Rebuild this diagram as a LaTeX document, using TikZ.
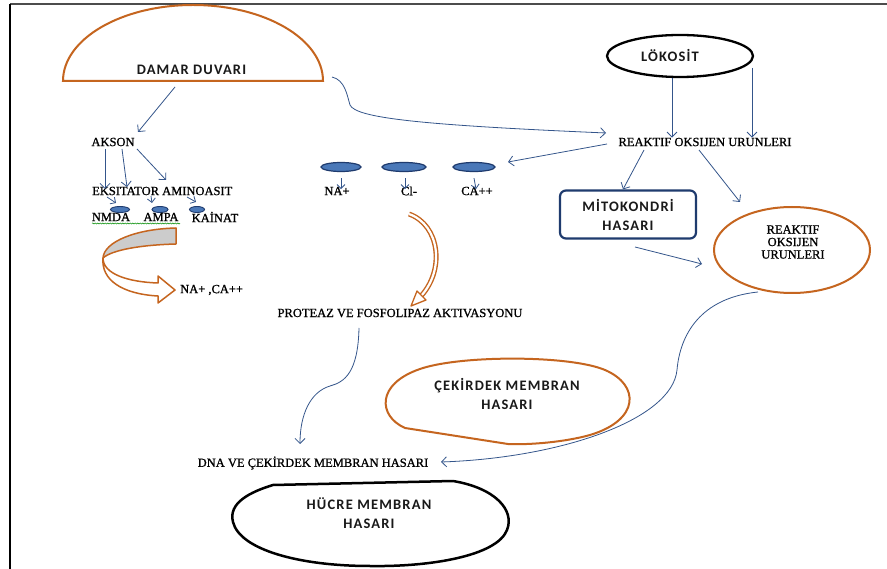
\documentclass[tikz,border=0pt]{standalone}
\usepackage{fontspec}
\setmainfont[FakeBold=1.0]{Liberation Serif}
\newfontfamily\calfont[LetterSpace=8]{Carlito}
\usetikzlibrary{arrows.meta,shapes.geometric,decorations.pathmorphing,calc}
\definecolor{ob}{HTML}{C5651F}
\definecolor{ab}{HTML}{34558B}
\definecolor{db}{HTML}{1F3B6E}
\definecolor{ionfill}{HTML}{4A78B8}
\begin{document}
\begin{tikzpicture}[x=1pt,y=-1pt,
 txt/.style={font=\fontsize{12.5}{12.5}\selectfont, inner sep=0pt, text=black},
 stxt/.style={font=\calfont\bfseries\fontsize{14.5}{19}\selectfont, inner sep=0pt, align=center, text=black!90},
 arr/.style={draw=ab, line width=0.8pt, -{Straight Barb[length=5pt,width=10pt]}},
 sarr/.style={draw=ab, line width=0.8pt, -{Straight Barb[length=4pt,width=8pt]}},
 ion/.style={ellipse, draw=db, fill=ionfill, line width=1.2pt, inner sep=0pt},
 oshape/.style={draw=ob, line width=2pt},
]
\useasboundingbox (0,0) rectangle (887,569);
\fill[white] (0,0) rectangle (887,569);
\draw[black!70, line width=2pt] (887,4) -- (10,4);
\draw[black, line width=1.5pt] (10,4) -- (10,569);

% DAMAR DUVARI dome
\draw[oshape] (63,81) -- (323,81) arc[start angle=0,end angle=180,x radius=130pt,y radius=76pt] -- cycle;
\node[stxt] (damar) at (191.5,69.5) {DAMAR DUVARI};
\coordinate (damarB) at (175,87);
\coordinate (damarR) at (332,77);

% LOKOSIT
\node[ellipse, draw=black, line width=2.3pt, minimum width=146pt, minimum height=42pt] (lok) at (680,56) {};
\node[stxt] (loktxt) at (670,55) {LÖKOSİT};

% REAKTIF text
\node[txt] (reak) at (705,142) {REAKTIF OKSIJEN URUNLERI};

% MITOKONDRI
\node[draw=db, line width=2.2pt, rounded corners=6pt, minimum width=136pt, minimum height=48pt, stxt, inner sep=0pt] (mito) at (628,214.5) {MİTOKONDRİ\\HASARI};

% REAKTIF orange ellipse
\node[ellipse, oshape, minimum width=156pt, minimum height=86pt] (rell) at (792,250) {};
\node[txt, align=center] (relltxt) at (793,242) {REAKTIF\\OKSIJEN\\URUNLERI};

% Arrows from LOKOSIT
\coordinate (l1) at (672,78);
\coordinate (l2) at (752,68);
\draw[arr] (l1) -- (reak.north -| l1);
\draw[arr] (l2) -- (reak.north -| l2);

% damar to reaktif
\coordinate (reakin) at (606,133);
\draw[arr] (damarR) .. controls (345,80) and (347,95) .. (350,105) .. controls (356,118) and (420,125) .. (reakin);

% ions
\node[ion, minimum width=40pt, minimum height=9pt] (na) at (341,167) {};
\node[ion, minimum width=44pt, minimum height=9pt] (cl) at (404,167) {};
\node[ion, minimum width=42pt, minimum height=9pt] (ca) at (474,167) {};
\node[txt] (natxt) at (337,191) {NA+};
\node[txt] (cltxt) at (409,191) {Cl-};
\node[txt] (catxt) at (477,191) {CA++};
\draw[sarr] ($(na.south)+(0,6)$) -- ($(na.south)+(0,17)$);
\draw[sarr] ($(cl.south)+(1,6)$) -- ($(cl.south)+(1,17)$);
\draw[sarr] ($(ca.south)+(0,6)$) -- ($(ca.south)+(2,17)$);

% reaktif arrows
\coordinate (r1) at (607,144);
\coordinate (r2) at (644,150);
\coordinate (r3) at (699,150);
\draw[arr] (r1) -- (508,162);
\draw[arr] (r2) -- (mito.north -| 623,0);
\draw[arr] (r3) -- (740,202);
\draw[arr] (635,247) -- (702,264);

% AKSON
\node[txt] (akson) at (113,142) {AKSON};
\draw[arr] (damarB) -- (138,132);
\node[txt, anchor=west] (eks) at (92,191) {EKSITATOR AMINOASIT};
\draw[arr] (105,149) -- (105,189);
\draw[arr] (122,149) -- (127,187);
\draw[arr] (137,149) -- (166,180);
\draw[sarr] (107,197) -- (116,203);
\draw[sarr] (151,196) -- (152,203);
\draw[sarr] (187,197) -- (196,202);
\node[ion, line width=0.9pt, minimum width=19pt, minimum height=6pt] (nmdae) at (120,209.5) {};
\node[ion, line width=0.9pt, minimum width=16pt, minimum height=6pt] (ampae) at (160,209.5) {};
\node[ion, line width=0.9pt, minimum width=15pt, minimum height=6pt] (kaie) at (197,209.5) {};
\node[txt] (nmda) at (111,217) {NMDA};
\node[txt] (ampa) at (161,217) {AMPA};
\node[txt] (kainat) at (215,217) {KAİNAT};
\draw[green!55!black, line width=0.5pt, decorate, decoration={snake, amplitude=0.6pt, segment length=2.5pt}] (92,223.5) -- (180,223.5);

% left curved block arrow
\draw[ob, line width=1.5pt, fill=black!20, line join=round] (176,228) .. controls (135,229) and (104,242) .. (103,258) .. controls (112,250) and (140,245) .. (176,244) -- cycle;
\draw[ob, line width=1.5pt, fill=white, line join=round] (103,258) .. controls (103,274) and (128,282) .. (158,283) -- (158,276) -- (175,290) -- (158,303) -- (158,296) .. controls (122,294) and (101,280) .. (103,258) -- cycle;
\node[txt, anchor=west] (naca) at (180,290) {NA+ ,CA++};

% right thin curved arrow
\draw[ob, line width=1.4pt, double=white, double distance=2.2pt] (409,214) .. controls (440,225) and (445,270) .. (421,296);
\draw[ob, line width=1.3pt, fill=white, line join=round] (417,291) -- (426,300) -- (411,306) -- cycle;

% PROTEAZ
\node[txt] (prot) at (400,313) {PROTEAZ VE FOSFOLIPAZ AKTIVASYONU};
\node[txt] (dna) at (313,463) {DNA VE ÇEKİRDEK MEMBRAN HASARI};
\coordinate (p1) at (359,328);
\coordinate (p2) at (300,444);
\draw[arr] (p1) .. controls (358,372) and (345,382) .. (330,386) .. controls (310,392) and (300,415) .. (p2);

% reaktif ellipse -> DNA
\coordinate (q1) at (758,292);
\coordinate (q2) at (441,462);
\draw[arr] (q1) .. controls (700,298) and (680,335) .. (677,370) .. controls (672,420) and (560,458) .. (q2);

% CEKIRDEK shape
\draw[oshape, line join=round] (508,444) -- (405,428) .. controls (378,416) and (376,384) .. (420,369) .. controls (460,355) and (570,355) .. (605,370) .. controls (640,385) and (640,420) .. (590,435) .. controls (565,442) and (530,445) .. (508,444) -- cycle;
\node[stxt] (cek) at (507,394) {ÇEKİRDEK MEMBRAN\\HASARI};

% HUCRE shape
\draw[black, line width=2.5pt, line join=round] (273,485) -- (453,481) .. controls (495,488) and (515,510) .. (507,530) .. controls (497,556) and (430,567) .. (370,566) .. controls (300,566) and (240,550) .. (233,522) .. controls (228,503) and (250,492) .. (273,485) -- cycle;
\node[stxt] (hucre) at (369,513) {HÜCRE MEMBRAN\\HASARI};
\end{tikzpicture}
\end{document}
